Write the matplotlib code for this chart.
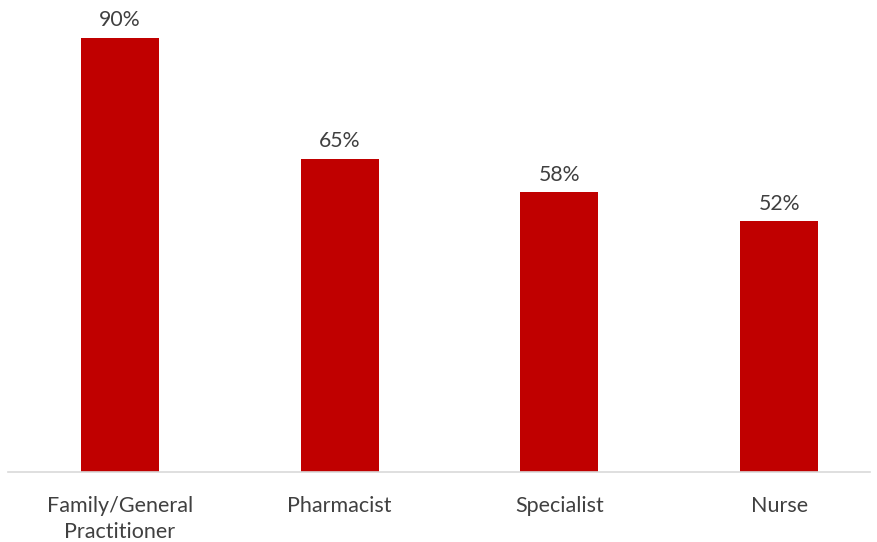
import matplotlib.pyplot as plt

categories = ['Family/General\nPractitioner', 'Pharmacist', 'Specialist', 'Nurse']
values = [90, 65, 58, 52]

plt.rcParams['font.family'] = ['Lato', 'DejaVu Sans']

fig = plt.figure(figsize=(8.78, 5.42), dpi=100)
ax = fig.add_axes([0.009, 0.129, 0.982, 0.871])

x = range(len(categories))
bars = ax.bar(x, values, width=0.355, color='#C00000', zorder=2)

# Percentage labels above each bar
for bar, v in zip(bars, values):
    ax.text(bar.get_x() + bar.get_width() / 2, v + 1.6, f'{v}%',
            ha='center', va='bottom', fontsize=15.3, color='#404040')

ax.set_xlim(-0.51, 3.414)
ax.set_ylim(0, 97.9)
ax.set_xticks(list(x))
ax.set_xticklabels(categories, fontsize=15.5, color='#404040', linespacing=1.4)
ax.tick_params(axis='x', length=0, pad=17)
ax.set_yticks([])

for side in ['top', 'right', 'left']:
    ax.spines[side].set_visible(False)
ax.spines['bottom'].set_color('#D9D9D9')
ax.spines['bottom'].set_linewidth(1.2)

fig.savefig('out.png', dpi=100)
